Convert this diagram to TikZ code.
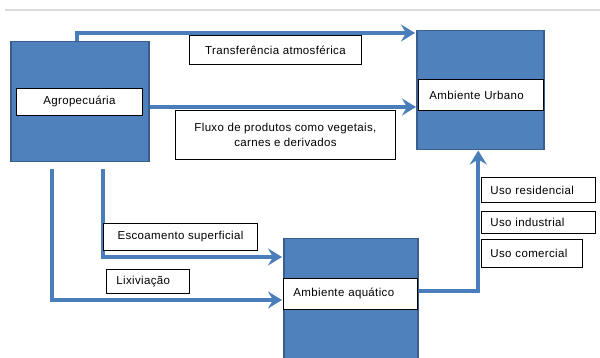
\documentclass[tikz,border=0pt]{standalone}
\usepackage{fontspec}
\setmainfont{Liberation Sans}[LetterSpace=3]
\usetikzlibrary{arrows.meta,calc}
\definecolor{boxblue}{HTML}{4F81BD}
\definecolor{boxedge}{HTML}{3A5F8E}
\definecolor{flowblue}{HTML}{4A7EBB}
\definecolor{rulegray}{HTML}{DADADA}
\begin{document}
\begin{tikzpicture}[x=1pt,y=-1pt,
  env/.style={draw=boxedge, fill=boxblue, line width=1.5pt, inner sep=0pt, anchor=north west},
  lab/.style={draw=black, fill=white, line width=0.9pt, inner sep=0pt, anchor=north west,
    font=\fontsize{11.5pt}{15pt}\selectfont, align=center},
  flow/.style={draw=flowblue, line width=4pt, -{Stealth[length=14pt,width=17pt,inset=5pt]}}
]
\useasboundingbox (0,0) rectangle (600,358);
\draw[rulegray, line width=1.5pt] (5,10) -- (600,10);

% environment boxes
\node[env, minimum width=138pt, minimum height=120pt] (agro) at (10,41) {};
\node[env, minimum width=127pt, minimum height=119pt] (urb) at (416,30) {};
\node[env, minimum width=134pt, minimum height=125pt] (aq) at (283,238) {};

% labels inside boxes
\node[lab, minimum width=126pt, minimum height=27pt] (agroL) at (16,88) {Agropecuária};
\node[lab, minimum height=31pt, text width=103pt, inner xsep=11pt, align=left] (urbL) at (418,79) {Ambiente Urbano};
\node[lab, minimum height=31pt, text width=114pt, inner xsep=10pt, align=left] (aqL) at (283,278) {Ambiente aquático};

% connectors
\coordinate (t0) at ($(agro.north west)+(67,0)$);
\draw[flow] (t0) |- ($(urb.north west)+(-1,3)$);
\coordinate (f0) at ($(agro.north east)+(0,66)$);
\draw[flow] (f0) -- (urb.west |- f0);
\coordinate (l0) at ($(agro.south west)+(42,7)$);
\draw[flow] (l0) |- ($(aq.north west)+(-1,62)$);
\coordinate (e0) at ($(agro.south west)+(93,7)$);
\draw[flow] (e0) |- ($(aq.north west)+(-1,19)$);
\coordinate (a0) at ($(aq.north east)+(0,53)$);
\draw[flow] (a0) -| ($(urb.south)+(-2,0)$);

% flow labels
\node[lab, minimum width=172pt, minimum height=29pt] (transf) at (189,35) {Transferência atmosférica};
\node[lab, minimum width=220pt, minimum height=49pt] (fluxo) at (175,110) {Fluxo de produtos como vegetais,\\carnes e derivados};
\node[lab, minimum width=154pt, minimum height=27pt] (esc) at (103,223) {Escoamento superficial};
\node[lab, minimum height=24pt, text width=63pt, inner xsep=10pt, align=left] (lix) at (106,269) {Lixiviação};
\node[lab, minimum height=25pt, text width=96pt, inner xsep=9pt, align=left] (res) at (481,177) {Uso residencial};
\node[lab, minimum height=22pt, text width=96pt, inner xsep=9pt, align=left] (ind) at (481,211) {Uso industrial};
\node[lab, minimum height=28pt, text width=83pt, inner xsep=9pt, align=left] (com) at (481,239) {Uso comercial};
\end{tikzpicture}
\end{document}
